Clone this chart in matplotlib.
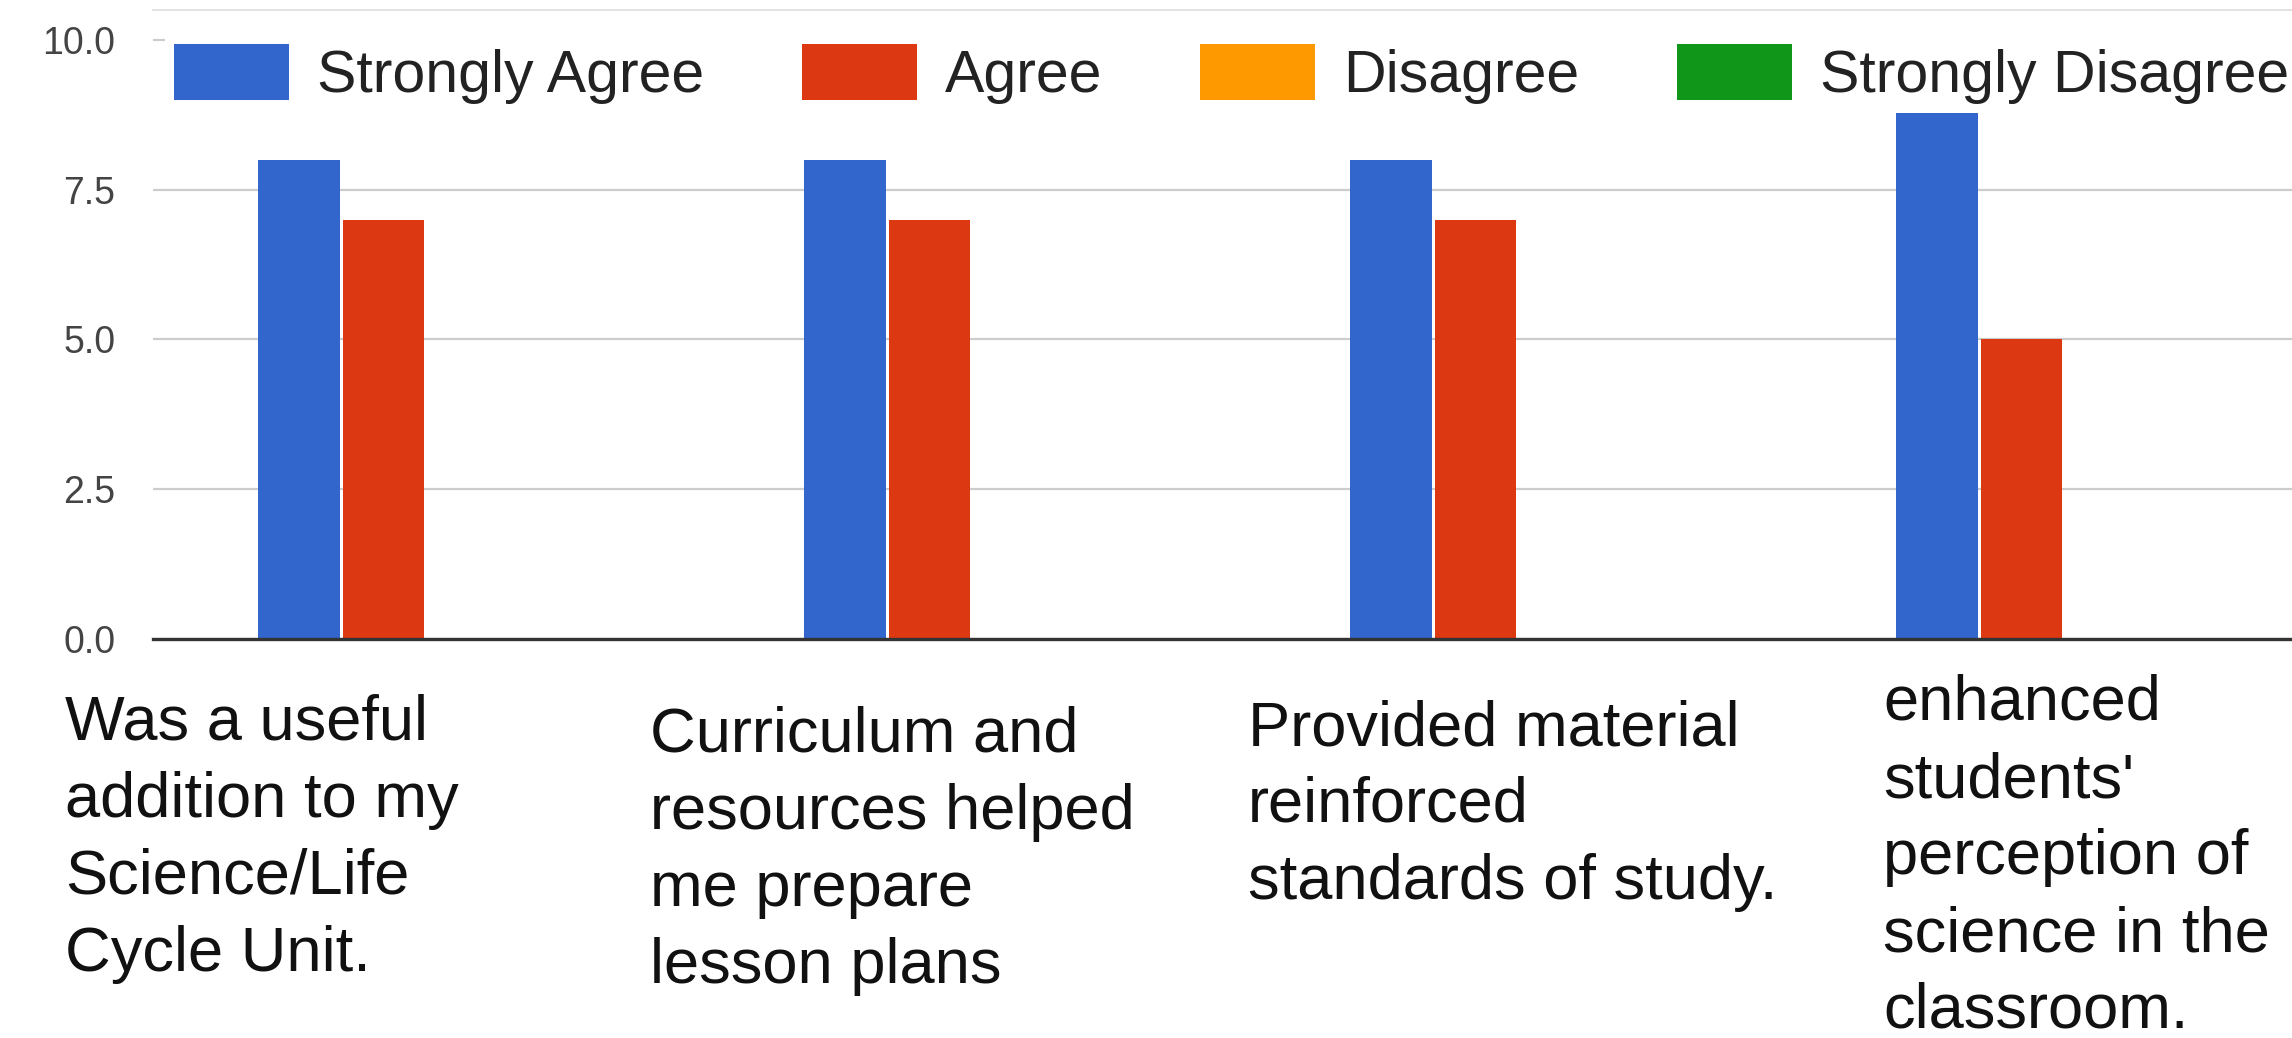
import numpy as np
import matplotlib
matplotlib.use("Agg")
import matplotlib.pyplot as plt

plt.rcParams['font.family'] = ['Liberation Sans', 'DejaVu Sans']

series_names = ['Strongly Agree', 'Agree', 'Disagree', 'Strongly Disagree']
series_colors = ['#3366CC', '#DC3912', '#FF9900', '#109618']
strongly_agree = [8, 8, 8, 10]
agree = [7, 7, 7, 5]
disagree = [0, 0, 0, 0]
strongly_disagree = [0, 0, 0, 0]
y_ticks = [0.0, 2.5, 5.0, 7.5, 10.0]

# hand-written labels pasted under the chart
labels = [
    "Was a useful\naddition to my\nScience/Life\nCycle Unit.",
    "Curriculum and\nresources helped\nme prepare\nlesson plans",
    "Provided material\nreinforced\nstandards of study.",
    "enhanced\nstudents'\nperception of\nscience in the\nclassroom.",
]
# left x and first baseline y of each label, in pixels
label_pos = [(65, 740), (650, 752), (1248, 745), (1883, 720)]
line_step = 77

W, H = 2292, 1038
fig = plt.figure(figsize=(W / 100, H / 100), dpi=100)
ax = fig.add_axes([153 / W, 1 - 639 / H, 2184 / W, 629 / H])

values = [strongly_agree, agree, disagree, strongly_disagree]
x = np.arange(len(strongly_agree))
step = 0.155
width = 0.149
handles = []
for i, (name, col, vals) in enumerate(zip(series_names, series_colors, values)):
    b = ax.bar(x + (i - 1.5) * step, vals, width, color=col, label=name,
               linewidth=0, zorder=2)
    handles.append(b)

ax.set_xlim(-0.5, 3.5)
ax.set_ylim(0, 10.5)
ax.set_yticks(y_ticks)
ax.set_yticklabels(['%.1f' % t for t in y_ticks])
ax.set_xticks([])
ax.tick_params(axis='y', length=0, pad=27, labelsize=27, labelcolor='#444444')
ax.grid(axis='y', color='#CCCCCC', linewidth=1.6, zorder=0)
ax.set_axisbelow(True)
for s in ['left', 'right']:
    ax.spines[s].set_visible(False)
ax.spines['top'].set_color('#DDDDDD')
ax.spines['top'].set_linewidth(1.2)
ax.spines['bottom'].set_color('#333333')
ax.spines['bottom'].set_linewidth(2.4)
ax.spines['bottom'].set_zorder(3)

leg = ax.legend(handles=handles, loc='upper left', ncol=4,
                bbox_to_anchor=(165 / W, 1 - 35 / H), bbox_transform=fig.transFigure,
                borderaxespad=0, borderpad=0.15, fontsize=42.5,
                handlelength=1.95, handleheight=1.08, handletextpad=0.47,
                columnspacing=1.66, frameon=True, fancybox=False,
                facecolor='white', edgecolor='none', framealpha=1)
for t in leg.get_texts():
    t.set_color('#222222')

for text, (lx, ly) in zip(labels, label_pos):
    for k, line in enumerate(text.split('\n')):
        fig.text(lx / W, 1 - (ly + k * line_step) / H, line, fontsize=45.5,
                 color='#111111', ha='left', va='baseline')

fig.savefig('out.png', dpi=100)
